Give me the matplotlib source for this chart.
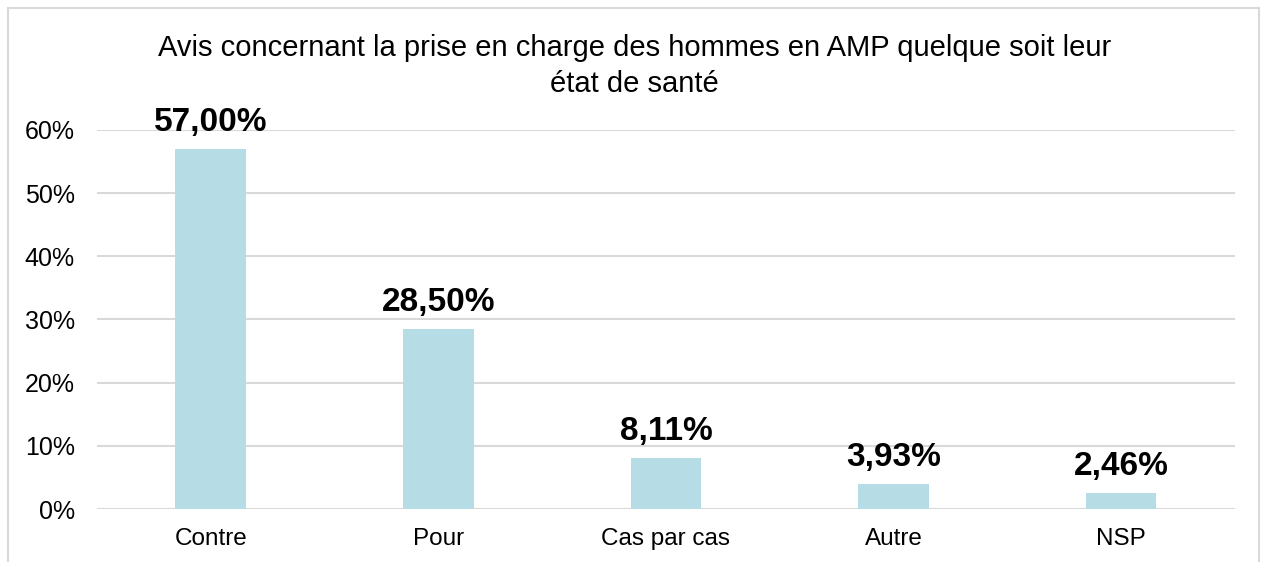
import matplotlib.pyplot as plt
from matplotlib.patches import Rectangle
from matplotlib.ticker import FuncFormatter

plt.rcParams['font.family'] = ['Liberation Sans', 'DejaVu Sans']

categories = ['Contre', 'Pour', 'Cas par cas', 'Autre', 'NSP']
values = [0.57, 0.285, 0.0811, 0.0393, 0.0246]
labels = ['57,00%', '28,50%', '8,11%', '3,93%', '2,46%']

fig = plt.figure(figsize=(12.64, 5.62), dpi=100)
ax = fig.add_axes([0.0767, 0.0943, 0.9003, 0.6744])

bars = ax.bar(range(len(categories)), values, width=0.31, color='#B6DDE6', zorder=2)
for b, lab in zip(bars, labels):
    ax.annotate(lab, (b.get_x() + b.get_width() / 2, b.get_height()),
                xytext=(0, 8), textcoords='offset points', ha='center', va='bottom',
                fontsize=24, fontweight='bold')

ax.set_xlim(-0.5, len(categories) - 0.5)
ax.set_ylim(0, 0.6)
ax.set_yticks([0, 0.1, 0.2, 0.3, 0.4, 0.5, 0.6])
ax.yaxis.set_major_formatter(FuncFormatter(lambda v, p: f'{v*100:.0f}%'))
ax.set_xticks(range(len(categories)))
ax.set_xticklabels(categories)
ax.tick_params(length=0, labelsize=17.5, pad=14)
ax.tick_params(axis='y', labelsize=18, pad=16)
ax.grid(axis='y', color='#D9D9D9', lw=1.5, zorder=0)
for s in ax.spines.values():
    s.set_visible(False)

fig.text(0.502, 0.882, 'Avis concernant la prise en charge des hommes en AMP quelque soit leur\nétat de santé',
         ha='center', va='center', fontsize=21, linespacing=1.35)

fig.patches.append(Rectangle((8 / 1264, -0.05), 1251 / 1264, 1 - 8 / 562 + 0.05,
                             transform=fig.transFigure, fill=False, ec='#D9D9D9', lw=1.5))

fig.savefig('out.png', dpi=100)
